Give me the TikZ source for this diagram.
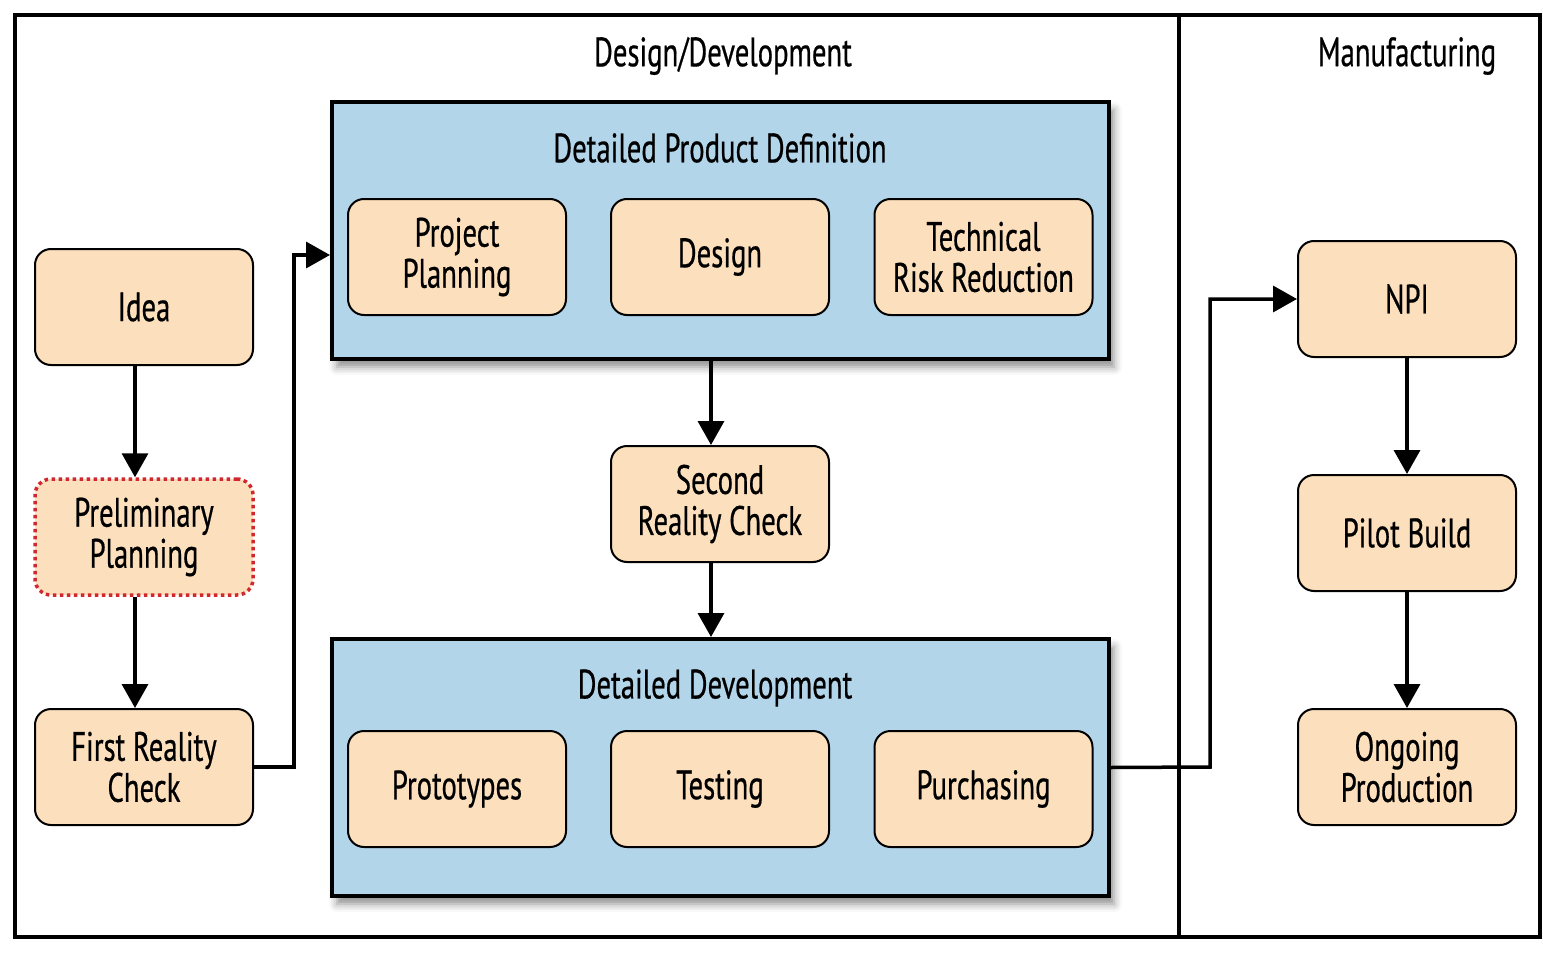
\documentclass[tikz,border=0pt]{standalone}
\usepackage{fontspec}
\setmainfont{PT Sans}[FakeStretch=0.7,FakeBold=0.5]
\usetikzlibrary{arrows.meta,shadows.blur}
\definecolor{peach}{HTML}{FCDFBC}
\definecolor{grpblue}{HTML}{B3D5EA}
\definecolor{dotred}{HTML}{D0282E}
\tikzset{
  txt/.style={font=\fontsize{41}{41}\selectfont, align=center, inner sep=0pt},
  box/.style={txt, draw, line width=2pt, rounded corners=16pt, fill=peach,
              minimum width=218pt, minimum height=116pt},
  dotbox/.style={box, draw=dotred, line width=3.5pt, dash pattern=on 3.5pt off 3.5pt},
  grp/.style={draw, line width=4pt, fill=grpblue, minimum width=777pt, minimum height=257pt,
              inner sep=0pt, blur shadow={shadow xshift=5pt, shadow yshift=-8pt, shadow blur radius=8pt, shadow opacity=45}},
  arr/.style={line width=3.5pt, -{Triangle[length=24pt,width=26pt]}},
  frame/.style={line width=4pt}
}
\begin{document}
\begin{tikzpicture}[x=1pt,y=-1pt]
\useasboundingbox (0,0) rectangle (1543,966);
% frames
\draw[frame] (15,15) rectangle (1540,937);
\draw[frame] (1179,15) -- (1179,937);
\node[txt] (dd) at (723,56) {Design/Development};
\node[txt] (mf) at (1407,56) {Manufacturing};
% groups
\node[grp] (g1) at (720.5,230.5) {};
\node[grp] (g2) at (720.5,767.5) {};
\node[txt] (g1t) at (720,148) {Detailed Product Definition};
\node[txt] (g2t) at (715,688) {Detailed Development};
% boxes
\node[box] (pp) at (457,257) {Project\\Planning};
\node[box] (des) at (720,257) {Design};
\node[box] (trr) at (983.5,257) {Technical\\Risk Reduction};
\node[box] (pro) at (457,789) {Prototypes};
\node[box] (tst) at (720,789) {Testing};
\node[box] (pur) at (983.5,789) {Purchasing};
\node[box] (idea) at (144,307) {Idea};
\node[dotbox] (prel) at (144,537) {Preliminary\\Planning};
\node[box] (frc) at (144,767) {First Reality\\Check};
\node[box] (src) at (720,504) {Second\\Reality Check};
\node[box] (npi) at (1407,299) {NPI};
\node[box] (pil) at (1407,533) {Pilot Build};
\node[box] (ong) at (1407,767) {Ongoing\\Production};
% arrows
\draw[arr] ([xshift=-9pt]idea.south) -- ([xshift=-9pt]prel.north);
\draw[arr] ([xshift=-9pt]prel.south) -- ([xshift=-9pt]frc.north);
\coordinate (c1) at (294,767);
\coordinate (c2) at (294,255);
\draw[arr] (frc.east) -- (c1) -- (c2) -- (c2 -| g1.west);
\draw[arr] ([xshift=-9.5pt]g1.south) -- ([xshift=-9pt]src.north);
\draw[arr] ([xshift=-9pt]src.south) -- ([xshift=-9.5pt]g2.north);
\coordinate (c3) at (1210,767);
\coordinate (c4) at (1210,299);
\draw[arr] (g2.east) -- (c3) -- (c4) -- (npi.west);
\draw[arr] (npi.south) -- (pil.north);
\draw[arr] ([yshift=2pt]pil.south) -- (ong.north);
\end{tikzpicture}
\end{document}
